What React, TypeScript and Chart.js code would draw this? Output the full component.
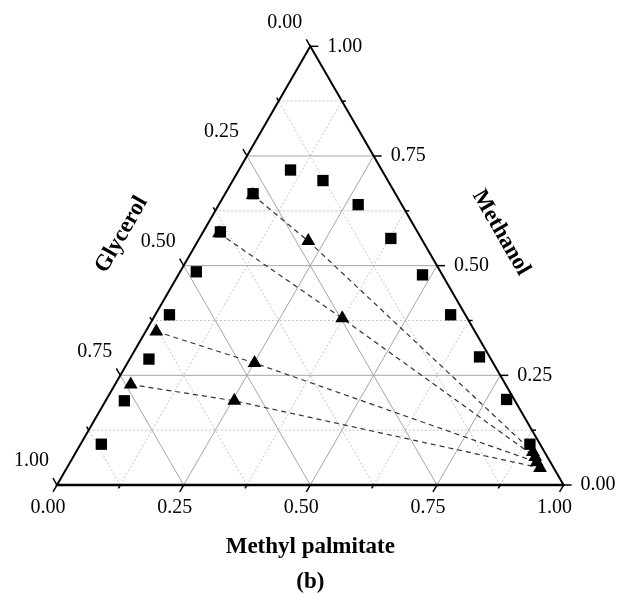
import React, { useEffect, useRef } from "react";
import { Chart, registerables } from "chart.js";

Chart.register(...registerables);

// ---- Axis ticks ----
const axisTicks = [0, 0.25, 0.5, 0.75, 1];
const tickLabels = ["0.00", "0.25", "0.50", "0.75", "1.00"];
const minorTicks = [0.125, 0.375, 0.625, 0.875];
const majorGrid = [0.25, 0.5, 0.75];
const minorGrid = [0.125, 0.375, 0.625, 0.875];

// ---- Axis titles ----
const bottomTitle = "Methyl palmitate";
const leftTitle = "Glycerol";
const rightTitle = "Methanol";
const caption = "(b)";

// ---- Square series (binodal points): mass fractions ----
const squareMP = [0.102, 0.178, 0.275, 0.378, 0.482, 0.583, 0.688, 0.79, 0.887, 0.055, 0.034, 0.032, 0.028, 0.038, 0.037, 0.041];
const squareMeOH = [0.718, 0.694, 0.639, 0.562, 0.479, 0.388, 0.292, 0.195, 0.093, 0.664, 0.577, 0.486, 0.388, 0.287, 0.192, 0.093];
const squareGly = [0.18, 0.128, 0.086, 0.06, 0.039, 0.029, 0.02, 0.015, 0.02, 0.281, 0.389, 0.482, 0.584, 0.675, 0.771, 0.866];

// ---- Tie lines (triangles): glycerol-rich end, overall mixture, ester-rich end ----
const tie1MP = [0.056, 0.218, 0.902];
const tie1MeOH = [0.661, 0.556, 0.075];
const tie2MP = [0.033, 0.373, 0.912];
const tie2MeOH = [0.574, 0.38, 0.064];
const tie3MP = [0.021, 0.251, 0.921];
const tie3MeOH = [0.35, 0.278, 0.052];
const tie4MP = [0.031, 0.254, 0.934];
const tie4MeOH = [0.229, 0.192, 0.039];

const S3 = Math.sqrt(3) / 2;
const toXY = (mp: number, meoh: number) => ({ x: mp + meoh / 2, y: meoh * S3 });

const ternaryPlugin = {
  id: "ternaryFrame",
  beforeDatasetsDraw(chart: any) {
    const { ctx } = chart;
    const xs = chart.scales.x;
    const ys = chart.scales.y;
    const P = (mp: number, me: number) => {
      const q = toXY(mp, me);
      return [xs.getPixelForValue(q.x), ys.getPixelForValue(q.y)] as [number, number];
    };
    const seg = (a: [number, number], b: [number, number]) => {
      ctx.beginPath();
      ctx.moveTo(a[0], a[1]);
      ctx.lineTo(b[0], b[1]);
      ctx.stroke();
    };
    ctx.save();
    // minor grid (dotted)
    ctx.strokeStyle = "#c4c4c4";
    ctx.lineWidth = 1;
    ctx.setLineDash([2, 2]);
    for (const v of minorGrid) {
      seg(P(0, v), P(1 - v, v)); // const methanol
      seg(P(v, 0), P(v, 1 - v)); // const methyl palmitate
      seg(P(1 - v, 0), P(0, 1 - v)); // const glycerol
    }
    // major grid (solid)
    ctx.setLineDash([]);
    ctx.strokeStyle = "#a6a6a6";
    for (const v of majorGrid) {
      seg(P(0, v), P(1 - v, v));
      seg(P(v, 0), P(v, 1 - v));
      seg(P(1 - v, 0), P(0, 1 - v));
    }
    // frame
    ctx.strokeStyle = "#000";
    ctx.lineWidth = 2;
    ctx.lineCap = "round";
    ctx.beginPath();
    const A = P(0, 0), B = P(1, 0), C = P(0, 1);
    ctx.moveTo(A[0], A[1]);
    ctx.lineTo(B[0], B[1]);
    ctx.lineTo(C[0], C[1]);
    ctx.closePath();
    ctx.stroke();
    ctx.lineWidth = 2.5;
    seg(A, B);
    // ticks
    ctx.lineWidth = 1.5;
    ctx.lineCap = "butt";
    const dB = [-0.5, S3], dR = [1, 0], dL = [-0.5, -S3];
    const tick = (p: [number, number], d: number[], len: number) =>
      seg(p, [p[0] + d[0] * len, p[1] + d[1] * len]);
    for (const t of axisTicks) {
      tick(P(t, 0), dB, 8);
      tick(P(1 - t, t), dR, 8);
      tick(P(0, 1 - t), dL, 8);
    }
    for (const t of minorTicks) {
      tick(P(t, 0), dB, 4);
      tick(P(1 - t, t), dR, 4);
      tick(P(0, 1 - t), dL, 4);
    }
    ctx.restore();
  },
  afterDraw(chart: any) {
    const { ctx } = chart;
    const xs = chart.scales.x;
    const ys = chart.scales.y;
    const P = (mp: number, me: number) => {
      const q = toXY(mp, me);
      return [xs.getPixelForValue(q.x), ys.getPixelForValue(q.y)] as [number, number];
    };
    ctx.save();
    ctx.fillStyle = "#000";
    ctx.font = '20px "Liberation Serif", "Times New Roman", serif';
    ctx.textBaseline = "middle";
    axisTicks.forEach((t, i) => {
      // bottom (methyl palmitate)
      const b = P(t, 0);
      ctx.textAlign = "center";
      ctx.fillText(tickLabels[i], b[0] - 9, b[1] + 23);
      // right (methanol)
      const r = P(1 - t, t);
      ctx.textAlign = "left";
      ctx.fillText(tickLabels[i], r[0] + 17, r[1]);
      // left (glycerol)
      const l = P(0, 1 - t);
      ctx.textAlign = "right";
      ctx.fillText(tickLabels[i], l[0] - 8, l[1] - 24);
    });
    ctx.font = 'bold 23px "Liberation Serif", "Times New Roman", serif';
    ctx.textAlign = "center";
    const mid = P(0.5, 0);
    ctx.fillText(bottomTitle, mid[0], mid[1] + 62);
    ctx.fillText(caption, mid[0], mid[1] + 97);
    const lm = P(0, 0.5);
    ctx.save();
    ctx.translate(lm[0] - 62, lm[1] - 31);
    ctx.rotate(-Math.PI / 3);
    ctx.fillText(leftTitle, 0, 0);
    ctx.restore();
    const rm = P(0.5, 0.5);
    ctx.save();
    ctx.translate(rm[0] + 64, rm[1] - 33);
    ctx.rotate(Math.PI / 3);
    ctx.fillText(rightTitle, 0, 0);
    ctx.restore();
    ctx.restore();
  },
};

export default function App() {
  const ref = useRef<HTMLCanvasElement | null>(null);
  useEffect(() => {
    if (!ref.current) return;
    const squares = squareMP.map((m, i) => {
      const s = m + squareMeOH[i] + squareGly[i];
      return toXY(m / s, squareMeOH[i] / s);
    });
    const ties = [
      [tie1MP, tie1MeOH],
      [tie2MP, tie2MeOH],
      [tie3MP, tie3MeOH],
      [tie4MP, tie4MeOH],
    ].map(([mp, me]) => mp.map((m, i) => toXY(m, me[i])));
    const triPts = ties.flat();
    const tieSets = ties.map((pts) => ({
      data: pts,
      showLine: true,
      borderColor: "#333",
      borderWidth: 1.2,
      borderDash: [5, 4],
      pointRadius: 0,
      fill: false,
      clip: false as any,
      order: 3,
    }));
    const chart = new Chart(ref.current, {
      type: "scatter",
      data: {
        datasets: [
          {
            data: squares,
            pointStyle: "rect",
            pointRadius: 8,
            backgroundColor: "#000",
            borderColor: "#000",
            borderWidth: 0,
            clip: false as any,
            order: 1,
          },
          {
            data: triPts,
            pointStyle: "triangle",
            pointRadius: 8,
            backgroundColor: "#000",
            borderColor: "#000",
            borderWidth: 0,
            clip: false as any,
            order: 2,
          },
          ...tieSets,
        ] as any,
      },
      plugins: [ternaryPlugin],
      options: {
        animation: false,
        responsive: false,
        devicePixelRatio: 1,
        layout: { padding: { left: 57, right: 53.4, top: 46.3, bottom: 109 } },
        plugins: { legend: { display: false }, tooltip: { enabled: false } },
        scales: {
          x: { type: "linear", display: false, min: 0, max: 1 },
          y: { type: "linear", display: false, min: 0, max: S3 },
        },
      },
    });
    return () => chart.destroy();
  }, []);
  return (
    <div style={{ position: "fixed", left: 0, top: 0, width: 617, height: 594, background: "#fff" }}>
      <canvas ref={ref} width={617} height={594} style={{ display: "block" }} />
    </div>
  );
}
